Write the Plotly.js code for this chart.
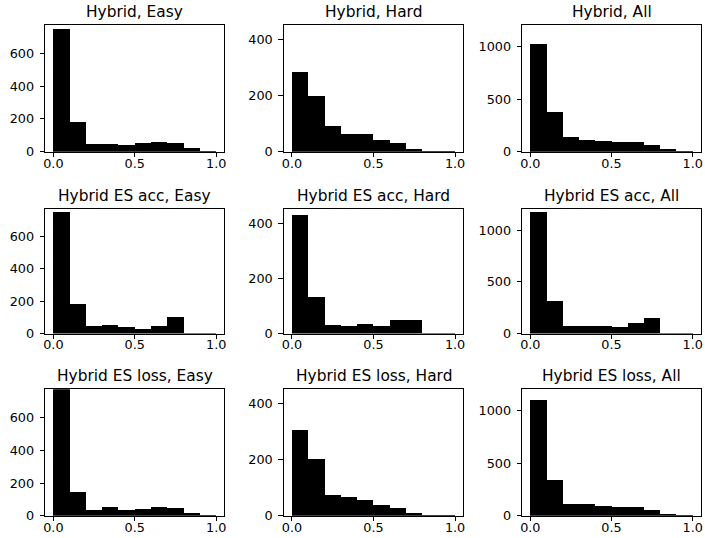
<!DOCTYPE html>
<html>
<head>
<meta charset="utf-8">
<script src="https://cdn.plot.ly/plotly-3.0.1.min.js"></script>
<style>html,body{margin:0;padding:0;background:#fff;}#chart{width:705px;height:538px;}</style>
</head>
<body>
<div id="chart"></div>
<script>
// bin centres (bins of width 0.1 from 0.0 to 1.0)
const binCenters = [0.05, 0.15, 0.25, 0.35, 0.45, 0.55, 0.65, 0.75, 0.85, 0.95];
const binWidth = 0.1;

const panelTitles = [
  "Hybrid, Easy", "Hybrid, Hard", "Hybrid, All",
  "Hybrid ES acc, Easy", "Hybrid ES acc, Hard", "Hybrid ES acc, All",
  "Hybrid ES loss, Easy", "Hybrid ES loss, Hard", "Hybrid ES loss, All"
];

const hybridEasy   = [745, 178, 49, 47, 42, 55, 61, 55, 24, 5];
const hybridHard   = [285, 200, 93, 64, 64, 43, 32, 8, 2, 1];
const hybridAll    = [1025, 379, 142, 113, 105, 92, 92, 64, 25, 6];
const esAccEasy    = [752, 184, 45, 51, 38, 31, 50, 100, 2, 1];
const esAccHard    = [428, 134, 31, 27, 35, 27, 49, 49, 1, 1];
const esAccAll     = [1178, 318, 76, 78, 73, 62, 99, 149, 3, 2];
const esLossEasy   = [800, 146, 37, 51, 37, 43, 55, 49, 16, 4];
const esLossHard   = [305, 202, 75, 68, 57, 37, 29, 11, 2, 2];
const esLossAll    = [1105, 345, 112, 115, 93, 80, 83, 57, 17, 6];

const panelValues = [
  hybridEasy, hybridHard, hybridAll,
  esAccEasy, esAccHard, esAccAll,
  esLossEasy, esLossHard, esLossAll
];

// y tick values per column
const yTicksCol = [[0, 200, 400, 600], [0, 200, 400], [0, 500, 1000]];
const xTicks = [0.0, 0.5, 1.0];

// layout geometry (pixels)
const W = 705, H = 538;
const colPx = [[45.2, 224.3], [283.8, 463.2], [522.2, 700.8]];
const rowPx = [[25, 151.7], [208.8, 333.6], [389.3, 515.8]];
const xRangeCol = [[-0.05, 1.05], [-0.05, 1.05], [-0.05, 1.05]];
const yRangeCol = [[0, 772], [0, 452], [0, 1205]];

const FONT = "DejaVu Sans, sans-serif";
const traces = [];
const layout = {
  width: W, height: H,
  margin: {l: 0, r: 0, t: 0, b: 0},
  paper_bgcolor: "#fff", plot_bgcolor: "#fff",
  showlegend: false, bargap: 0,
  font: {family: FONT, color: "#000", size: 12.8},
  annotations: []
};

for (let i = 0; i < 9; i++) {
  const r = Math.floor(i / 3), c = i % 3;
  const n = i + 1;
  const xa = n === 1 ? "xaxis" : "xaxis" + n;
  const ya = n === 1 ? "yaxis" : "yaxis" + n;
  traces.push({
    type: "bar",
    x: binCenters,
    y: panelValues[i],
    width: binWidth,
    marker: {color: "#000", line: {width: 0}},
    xaxis: "x" + (n === 1 ? "" : n),
    yaxis: "y" + (n === 1 ? "" : n),
    hoverinfo: "skip"
  });
  const common = {
    showline: true, mirror: true, linecolor: "#000", linewidth: 1,
    ticks: "outside", ticklen: 4.5, tickwidth: 1, tickcolor: "#000",
    showgrid: false, zeroline: false,
    tickfont: {family: FONT, size: 12.8, color: "#000"}
  };
  layout[xa] = Object.assign({}, common, {
    domain: [colPx[c][0] / W, colPx[c][1] / W],
    range: xRangeCol[c],
    tickmode: "array", tickvals: xTicks,
    ticktext: xTicks.map(v => v.toFixed(1)),
    ticklabelstandoff: -5,
    anchor: "y" + (n === 1 ? "" : n)
  });
  layout[ya] = Object.assign({}, common, {
    domain: [1 - rowPx[r][1] / H, 1 - rowPx[r][0] / H],
    range: yRangeCol[c],
    tickmode: "array", tickvals: yTicksCol[c],
    ticktext: yTicksCol[c].map(String),
    ticklabelstandoff: 3,
    anchor: "x" + (n === 1 ? "" : n)
  });
  layout.annotations.push({
    text: panelTitles[i],
    xref: "paper", yref: "paper",
    x: (colPx[c][0] + colPx[c][1]) / 2 / W,
    y: 1 - rowPx[r][0] / H,
    xanchor: "center", yanchor: "bottom",
    yshift: 2,
    showarrow: false,
    font: {family: FONT, size: 15.4, color: "#000"}
  });
}

Plotly.newPlot("chart", traces, layout, {displayModeBar: false, staticPlot: true});
</script>
</body>
</html>
